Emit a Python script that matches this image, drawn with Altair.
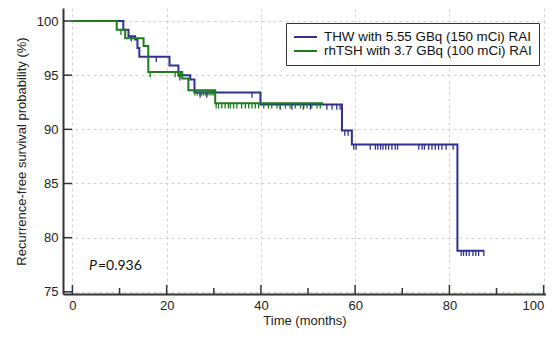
import altair as alt
import pandas as pd

GROUPS = ["THW with 5.55 GBq (150 mCi) RAI", "rhTSH with 3.7 GBq (100 mCi) RAI"]
COLORS = ["#2e3192", "#1e7b1e"]

# Kaplan-Meier step curves (time in months, survival in %)
thw_time = [0, 10.8, 11.9, 13.3, 13.8, 14.2, 20.6, 22.5, 25.0, 25.9, 39.9, 57.2, 59.3, 81.7, 87.4]
thw_surv = [100, 99.2, 98.6, 98.3, 97.5, 96.7, 95.9, 95.0, 94.6, 93.4, 92.3, 89.9, 88.6, 78.8, 78.8]
rh_time = [0, 9.4, 11.2, 15.1, 16.1, 23.3, 24.6, 30.3, 53.2]
rh_surv = [100, 99.2, 98.4, 97.7, 95.3, 94.7, 93.6, 92.4, 92.4]

# censored observations (months)
thw_cens = [12.5, 17.8, 22.8, 27.1, 28.5, 38.1, 44.1, 46.6, 49.0, 50.5, 54.0, 55.1, 56.1, 56.8,
            57.8, 58.5, 59.7, 60.2, 63.2, 64.3, 64.8, 65.4, 65.9, 66.5, 67.1, 67.8, 68.5, 69.0,
            73.5, 74.2, 74.7, 75.6, 76.3, 77.0, 77.7, 78.4, 79.3, 80.8,
            82.5, 83.0, 83.6, 84.2, 85.0, 85.6, 86.2, 87.3]
rh_cens = [10.3, 16.5, 21.8, 22.5, 22.9, 26.0, 26.5, 27.0, 27.4, 27.8, 28.2, 28.6, 29.0, 29.4,
           29.8, 30.1, 30.5, 31.0, 31.7, 32.4, 33.1, 33.5, 34.2, 34.9, 35.9, 36.7, 37.4, 38.1,
           38.8, 39.5, 40.6, 41.6, 42.3, 43.4, 44.1, 45.2, 46.2, 47.3, 48.4, 49.1, 49.8, 50.8,
           51.9, 52.6]

x_major = [0, 20, 40, 60, 80, 100]
x_minor = [10, 30, 50, 70, 90]
y_ticks = [75, 80, 85, 90, 95, 100]

p_label = ["P", "=0.936"]
p_pos = [3.5, 77.0]


def level_at(times, survs, t):
    s = survs[0]
    for ti, si in zip(times, survs):
        if ti <= t:
            s = si
    return s


curves = pd.concat([
    pd.DataFrame({"group": GROUPS[0], "time": thw_time, "surv": thw_surv}),
    pd.DataFrame({"group": GROUPS[1], "time": rh_time, "surv": rh_surv}),
])
cens = pd.concat([
    pd.DataFrame({"group": GROUPS[0], "time": thw_cens,
                  "surv": [level_at(thw_time, thw_surv, t) for t in thw_cens]}),
    pd.DataFrame({"group": GROUPS[1], "time": rh_cens,
                  "surv": [level_at(rh_time, rh_surv, t) for t in rh_cens]}),
])

W, H = 483, 286
FONT = "Liberation Sans"
xs = alt.Scale(domain=[-2, 100.5], nice=False, zero=False)
ys = alt.Scale(domain=[74.8, 101.2], nice=False, zero=False)
xa = alt.Axis(values=x_major, grid=True, gridDash=[3, 3], gridColor="#d0d0d0", ticks=False,
              domainWidth=2, domainColor="#333333", labelFont=FONT, labelFontSize=13,
              labelColor="#222222", labelPadding=5, labelFlush=5,
              title="Time (months)", titleFont=FONT,
              titleFontSize=13, titleFontWeight="normal", titleColor="#222222", titlePadding=2)
ya = alt.Axis(values=y_ticks, grid=True, gridDash=[3, 3], gridColor="#d0d0d0", ticks=False,
              domainWidth=2, domainColor="#333333", labelFont=FONT, labelFontSize=13,
              labelColor="#222222", labelPadding=5,
              title="Recurrence-free survival probability (%)", titleFont=FONT,
              titleFontSize=13, titleFontWeight="normal", titleColor="#222222", titlePadding=8)


def X(f):
    return alt.X(f"{f}:Q", scale=xs, axis=xa)


def Y(f):
    return alt.Y(f"{f}:Q", scale=ys, axis=ya)


color_scale = alt.Scale(domain=GROUPS, range=COLORS)

lines = alt.Chart(curves).mark_line(interpolate="step-after", strokeWidth=2).encode(
    x=X("time"), y=Y("surv"),
    color=alt.Color("group:N", scale=color_scale, sort=GROUPS,
                    legend=alt.Legend(title=None, orient="none", legendX=223, legendY=15,
                                      symbolType="stroke", symbolStrokeWidth=2, symbolSize=529,
                                      labelFont=FONT, labelFontSize=13.4, labelColor="#111111",
                                      labelLimit=400, labelOffset=6, strokeColor="#333333",
                                      fillColor="white", padding=7, clipHeight=14,
                                      rowPadding=0)),
)

ticks = alt.Chart(cens).mark_point(shape="M0,0L0,1", size=110, filled=False,
                                   strokeWidth=1.3, opacity=1).encode(
    x=X("time"), y=Y("surv"),
    color=alt.Color("group:N", scale=color_scale, legend=None),
)

xmaj = alt.Chart(pd.DataFrame({"v": x_major})).mark_rule(color="#333333", strokeWidth=1.5).encode(
    x=X("v"), y=alt.value(H), y2=alt.value(H - 9))
xmin = alt.Chart(pd.DataFrame({"v": x_minor})).mark_rule(color="#333333", strokeWidth=1.5).encode(
    x=X("v"), y=alt.value(H), y2=alt.value(H - 6))
ytk = alt.Chart(pd.DataFrame({"v": y_ticks})).mark_rule(color="#333333", strokeWidth=1.5).encode(
    y=Y("v"), x=alt.value(0), x2=alt.value(9))

pdf = pd.DataFrame({"x": [p_pos[0]], "y": [p_pos[1]]})
p1 = alt.Chart(pdf).mark_text(text=p_label[0], font="Lato", fontSize=14, fontStyle="italic",
                              align="left", baseline="alphabetic", color="#111111").encode(
    x=X("x"), y=Y("y"))
p2 = alt.Chart(pdf).mark_text(text=p_label[1], font="Lato", fontSize=14, dx=9,
                              align="left", baseline="alphabetic", color="#111111").encode(
    x=X("x"), y=Y("y"))

chart = alt.layer(xmaj, xmin, ytk, lines, ticks, p1, p2).properties(
    width=W, height=H,
    autosize=alt.AutoSizeParams(type="none"),
    padding={"left": 55, "top": 0, "right": 0, "bottom": 35},
).configure_view(stroke=None)

chart.save("out.html", embed_options={"renderer": "svg", "actions": False})
